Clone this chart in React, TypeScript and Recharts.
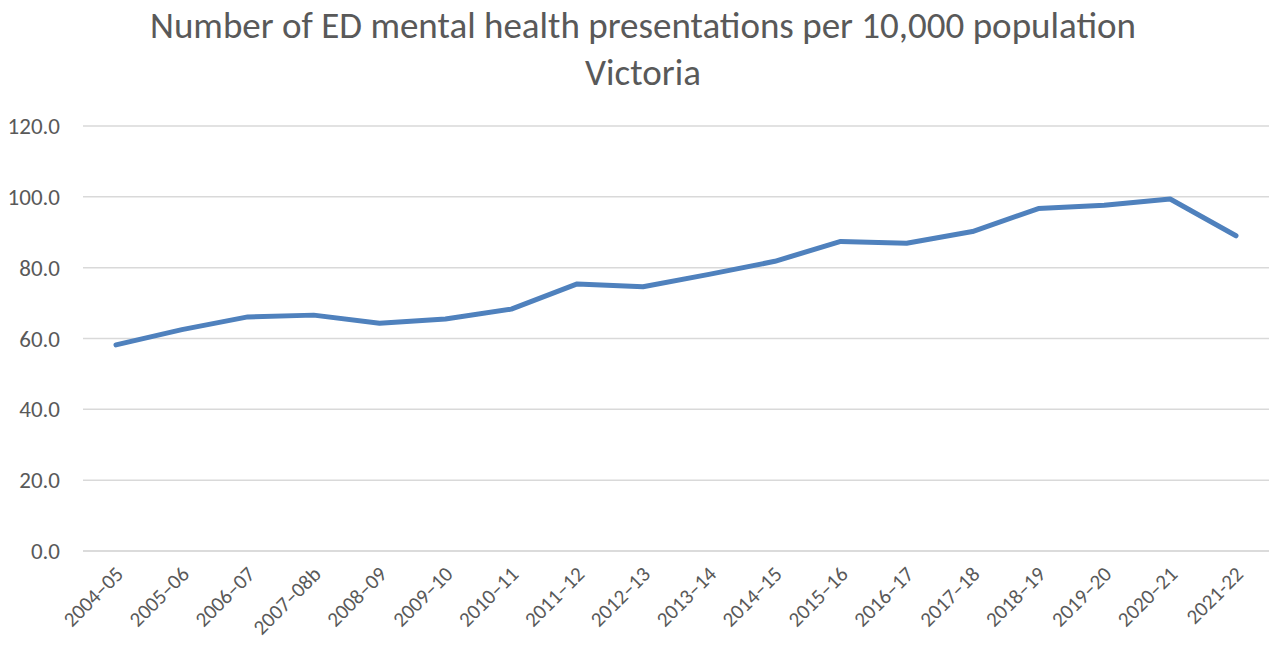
import React from 'react';
import { LineChart, Line, XAxis, YAxis, CartesianGrid } from 'recharts';

const years = [
  '2004–05', '2005–06', '2006–07', '2007–08b', '2008–09', '2009–10', '2010–11', '2011–12', '2012–13',
  '2013–14', '2014–15', '2015–16', '2016–17', '2017–18', '2018–19', '2019–20', '2020–21', '2021-22',
];
const presentations = [
  58.2, 62.5, 66.1, 66.6, 64.3, 65.5, 68.3, 75.4, 74.6,
  78.1, 81.8, 87.4, 86.9, 90.2, 96.7, 97.6, 99.4, 89.0,
];
const yTicks = [0, 20, 40, 60, 80, 100, 120];

const data = years.map((year, i) => ({ year, value: presentations[i] }));

const FONT = 'Carlito, Lato, "Open Sans", sans-serif';

// rotated category labels, right end sits under the tick
const YearTick = (props: any) => {
  const { x, y, payload } = props;
  return (
    <g transform={`translate(${x + 5},${y + 13})`}>
      <text transform="rotate(-45)" textAnchor="end" dominantBaseline="middle" fill="#595959" fontSize={21} fontFamily={FONT}>
        {payload.value}
      </text>
    </g>
  );
};

export default function App() {
  return (
    <div style={{ position: 'absolute', left: 0, top: 0, width: 1273, height: 651, background: '#fff' }}>
      <div style={{ position: 'absolute', left: 0, width: 1286, top: 2, textAlign: 'center', fontFamily: FONT, fontSize: 37, color: '#595959', lineHeight: '47px' }}>
        Number of ED mental health presentations per 10,000 population
        <br />
        Victoria
      </div>
      <LineChart width={1273} height={651} data={data} margin={{ top: 126, right: 4, bottom: 0, left: 0 }}>
        <CartesianGrid horizontal vertical={false} stroke="#d9d9d9" strokeWidth={1.5} />
        <XAxis
          dataKey="year"
          interval={0}
          axisLine={{ stroke: '#d9d9d9', strokeWidth: 1.5 }}
          tickLine={false}
          tick={<YearTick />}
          padding={{ left: 33, right: 33 }}
          height={100}
        />
        <YAxis
          domain={[0, 120]}
          ticks={yTicks}
          width={83}
          axisLine={false}
          tickLine={false}
          tickSize={0}
          tickMargin={23}
          tickFormatter={(v: number) => v.toFixed(1)}
          tick={{ fill: '#595959', fontSize: 23, fontFamily: FONT }}
        />
        <Line
          type="linear"
          dataKey="value"
          stroke="#4f81bd"
          strokeWidth={5}
          strokeLinecap="round"
          strokeLinejoin="round"
          dot={false}
          isAnimationActive={false}
        />
      </LineChart>
    </div>
  );
}
